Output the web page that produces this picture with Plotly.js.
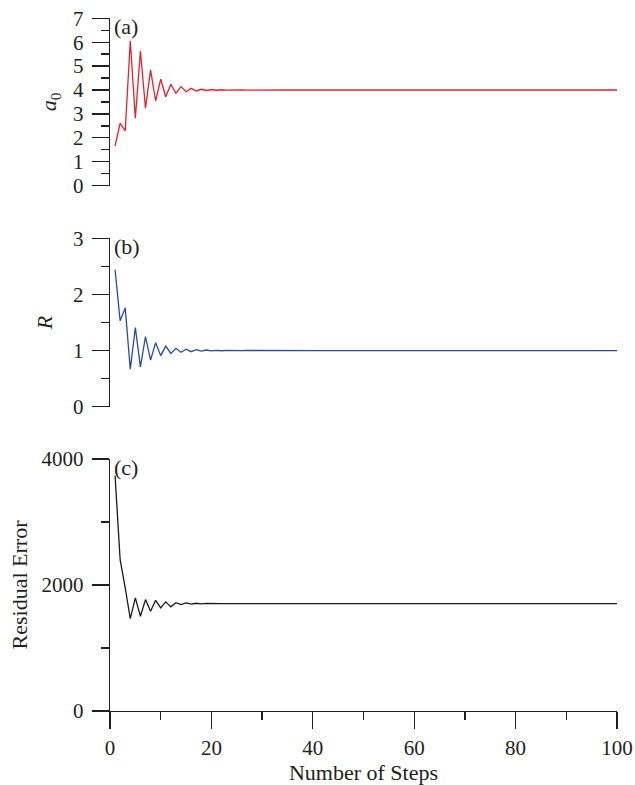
<!DOCTYPE html>
<html>
<head>
<meta charset="utf-8">
<script src="https://cdn.plot.ly/plotly-3.0.1.min.js"></script>
<style>html,body{margin:0;padding:0;background:#fff;}#chart{width:635px;height:785px;}</style>
</head>
<body>
<div id="chart"></div>
<script>
// Panel (a): a0 versus step
const a0Values = [
  1.66, 2.61, 2.29, 6.06, 2.82, 5.63, 3.24, 4.84, 3.54, 4.45,
  3.72, 4.24, 3.86, 4.14, 3.93, 4.07, 3.96, 4.03, 3.98, 4.02,
  3.99, 4.01, 3.995, 4.005, 3.997, 4.003, 3.998, 4.002, 3.999, 4.001,
  4, 4, 4, 4, 4, 4, 4, 4, 4, 4,
  4, 4, 4, 4, 4, 4, 4, 4, 4, 4,
  4, 4, 4, 4, 4, 4, 4, 4, 4, 4,
  4, 4, 4, 4, 4, 4, 4, 4, 4, 4,
  4, 4, 4, 4, 4, 4, 4, 4, 4, 4,
  4, 4, 4, 4, 4, 4, 4, 4, 4, 4,
  4, 4, 4, 4, 4, 4, 4, 4, 4, 4
];
// Panel (b): R versus step
const rValues = [
  2.44, 1.53, 1.76, 0.67, 1.41, 0.71, 1.25, 0.83, 1.14, 0.91,
  1.08, 0.95, 1.04, 0.97, 1.025, 0.98, 1.015, 0.99, 1.01, 0.995,
  1.005, 0.997, 1.003, 0.998, 1.002, 0.999, 1.001, 1, 1, 1,
  1, 1, 1, 1, 1, 1, 1, 1, 1, 1,
  1, 1, 1, 1, 1, 1, 1, 1, 1, 1,
  1, 1, 1, 1, 1, 1, 1, 1, 1, 1,
  1, 1, 1, 1, 1, 1, 1, 1, 1, 1,
  1, 1, 1, 1, 1, 1, 1, 1, 1, 1,
  1, 1, 1, 1, 1, 1, 1, 1, 1, 1,
  1, 1, 1, 1, 1, 1, 1, 1, 1, 1
];
// Panel (c): residual error versus step
const errValues = [
  3736, 2401, 1953, 1467, 1795, 1504, 1768, 1583, 1757, 1637,
  1732, 1653, 1718, 1690, 1715, 1697, 1710, 1701, 1707, 1703,
  1706, 1704, 1705, 1705, 1705, 1705, 1705, 1705, 1705, 1705,
  1705, 1705, 1705, 1705, 1705, 1705, 1705, 1705, 1705, 1705,
  1705, 1705, 1705, 1705, 1705, 1705, 1705, 1705, 1705, 1705,
  1705, 1705, 1705, 1705, 1705, 1705, 1705, 1705, 1705, 1705,
  1705, 1705, 1705, 1705, 1705, 1705, 1705, 1705, 1705, 1705,
  1705, 1705, 1705, 1705, 1705, 1705, 1705, 1705, 1705, 1705,
  1705, 1705, 1705, 1705, 1705, 1705, 1705, 1705, 1705, 1705,
  1705, 1705, 1705, 1705, 1705, 1705, 1705, 1705, 1705, 1705
];
const steps = a0Values.map((_, i) => i + 1);
const panelLabels = ['(a)', '(b)', '(c)'];
const yTitles = ['<i>a</i><sub>0</sub>', '<i>R</i>', 'Residual Error'];
const xTitle = 'Number of Steps';

const FONT = '"Liberation Serif", "Times New Roman", Times, serif';
const INK = '#231f20';

const traces = [
  {x: steps, y: a0Values, xaxis: 'x', yaxis: 'y', type: 'scatter', mode: 'lines',
   line: {color: '#e8202a', width: 1.3}},
  {x: steps, y: rValues, xaxis: 'x2', yaxis: 'y2', type: 'scatter', mode: 'lines',
   line: {color: '#2b4aa6', width: 1.3}},
  {x: steps, y: errValues, xaxis: 'x3', yaxis: 'y3', type: 'scatter', mode: 'lines',
   line: {color: '#1a1a1a', width: 1.3}}
];

function yAxis(domain, range, dtick, minorDtick, title, standoff, anchor) {
  return {
    domain: domain, range: range, dtick: dtick, tick0: 0, anchor: anchor,
    showline: true, linecolor: INK, linewidth: 1.3, showgrid: false, zeroline: false,
    ticks: 'outside', ticklen: 17, tickwidth: 1.3, tickcolor: INK,
    ticklabelstandoff: 4,
    minor: {dtick: minorDtick, tick0: 0, ticks: 'outside', ticklen: 8, tickwidth: 1.3, tickcolor: INK, showgrid: false},
    tickfont: {family: FONT, size: 21, color: INK},
    title: {text: title, font: {family: FONT, size: 22, color: INK}, standoff: standoff},
    fixedrange: true
  };
}

const layout = {
  width: 635, height: 785,
  margin: {l: 110, r: 18, t: 10, b: 74},
  paper_bgcolor: '#fff', plot_bgcolor: '#fff',
  showlegend: false,
  font: {family: FONT, color: INK},
  xaxis: {domain: [0, 1], range: [0, 100], visible: false, anchor: 'y', fixedrange: true},
  xaxis2: {domain: [0, 1], range: [0, 100], visible: false, anchor: 'y2', fixedrange: true},
  xaxis3: {
    domain: [0, 1], range: [0, 100], anchor: 'y3', dtick: 20, tick0: 0,
    showline: true, linecolor: INK, linewidth: 1.3, showgrid: false, zeroline: false,
    ticks: 'outside', ticklen: 17, tickwidth: 1.3, tickcolor: INK,
    ticklabelstandoff: 0,
    minor: {dtick: 10, tick0: 0, ticks: 'outside', ticklen: 8, tickwidth: 1.3, tickcolor: INK, showgrid: false},
    tickfont: {family: FONT, size: 21, color: INK},
    title: {text: xTitle, font: {family: FONT, size: 22, color: INK}, standoff: 4},
    fixedrange: true
  },
  yaxis: yAxis([0.7494, 0.9882], [0, 7], 1, 0.5, yTitles[0], 10, 'x'),
  yaxis2: yAxis([0.4341, 0.6743], [0, 3], 1, 0.5, yTitles[1], 14, 'x2'),
  yaxis3: yAxis([0, 0.3595], [0, 4000], 2000, 1000, yTitles[2], 7, 'x3'),
  annotations: panelLabels.map((t, i) => ({
    text: t, showarrow: false,
    xref: (i === 0 ? 'x' : 'x' + (i + 1)) + ' domain',
    yref: (i === 0 ? 'y' : 'y' + (i + 1)) + ' domain',
    x: 0, y: 1, xanchor: 'left', yanchor: 'top', xshift: 2, yshift: 6,
    font: {family: FONT, size: 22, color: INK}
  }))
};

Plotly.newPlot('chart', traces, layout, {displayModeBar: false, staticPlot: true});
</script>
</body>
</html>
